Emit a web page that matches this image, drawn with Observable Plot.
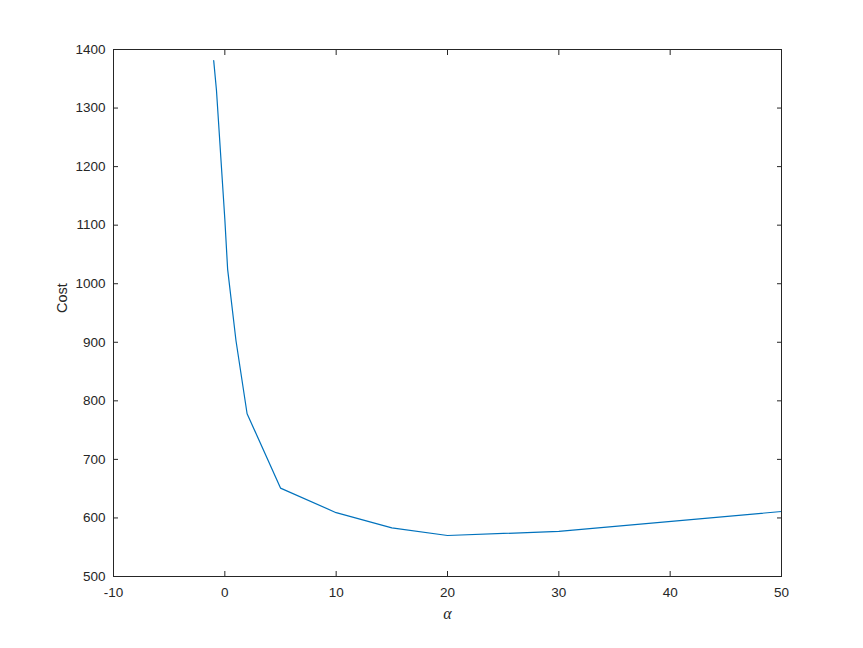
<!DOCTYPE html>
<html>
<head>
<meta charset="utf-8">
<script src="https://cdn.jsdelivr.net/npm/d3@7"></script>
<script src="https://cdn.jsdelivr.net/npm/@observablehq/plot@0.6"></script>
<style>
  html, body { margin: 0; padding: 0; background: #fff; }
  #chart svg { display: block; }
</style>
</head>
<body>
<div id="chart"></div>
<script>
const alphaValues = [-1, -0.75, 0, 0.25, 1, 2, 5, 10, 15, 20, 30, 50];
const costValues  = [1381, 1330, 1110, 1025, 903, 778, 651, 609, 583, 570, 577, 611];
const xTicks = [-10, 0, 10, 20, 30, 40, 50];
const yTicks = [500, 600, 700, 800, 900, 1000, 1100, 1200, 1300, 1400];
const xLabel = "α";
const yLabel = "Cost";

const data = alphaValues.map((a, i) => ({alpha: a, cost: costValues[i]}));
const axisColor = "#262626";
const fmt = d => String(d);

const chart = Plot.plot({
  width: 863,
  height: 648,
  marginLeft: 113,
  marginRight: 82,
  marginTop: 49,
  marginBottom: 72,
  style: {fontFamily: "'Liberation Sans', Arial, sans-serif", fontSize: "13.5px", color: axisColor, background: "#fff"},
  x: {domain: [-10, 50]},
  y: {domain: [500, 1400]},
  marks: [
    Plot.line(data, {x: "alpha", y: "cost", stroke: "#0072BD", strokeWidth: 1.2}),
    Plot.axisX(xTicks, {anchor: "bottom", tickSize: -5, tickPadding: 16, tickFormat: fmt, label: null, stroke: axisColor, fill: axisColor}),
    Plot.axisX(xTicks, {anchor: "top", tickSize: -5, tickFormat: () => "", label: null, stroke: axisColor}),
    Plot.axisY(yTicks, {anchor: "left", tickSize: -5, tickPadding: 13, tickFormat: fmt, label: null, stroke: axisColor, fill: axisColor}),
    Plot.axisY(yTicks, {anchor: "right", tickSize: -5, tickFormat: () => "", label: null, stroke: axisColor}),
    Plot.frame({stroke: axisColor, strokeWidth: 1}),
    Plot.text([xLabel], {frameAnchor: "bottom", dy: 42, fontStyle: "italic", fontFamily: "'Liberation Serif', serif", fontSize: 16, fill: axisColor}),
    Plot.text([yLabel], {frameAnchor: "left", dx: -51, rotate: -90, fontSize: 14.5, fill: axisColor})
  ]
});
document.getElementById("chart").appendChild(chart);
</script>
</body>
</html>
